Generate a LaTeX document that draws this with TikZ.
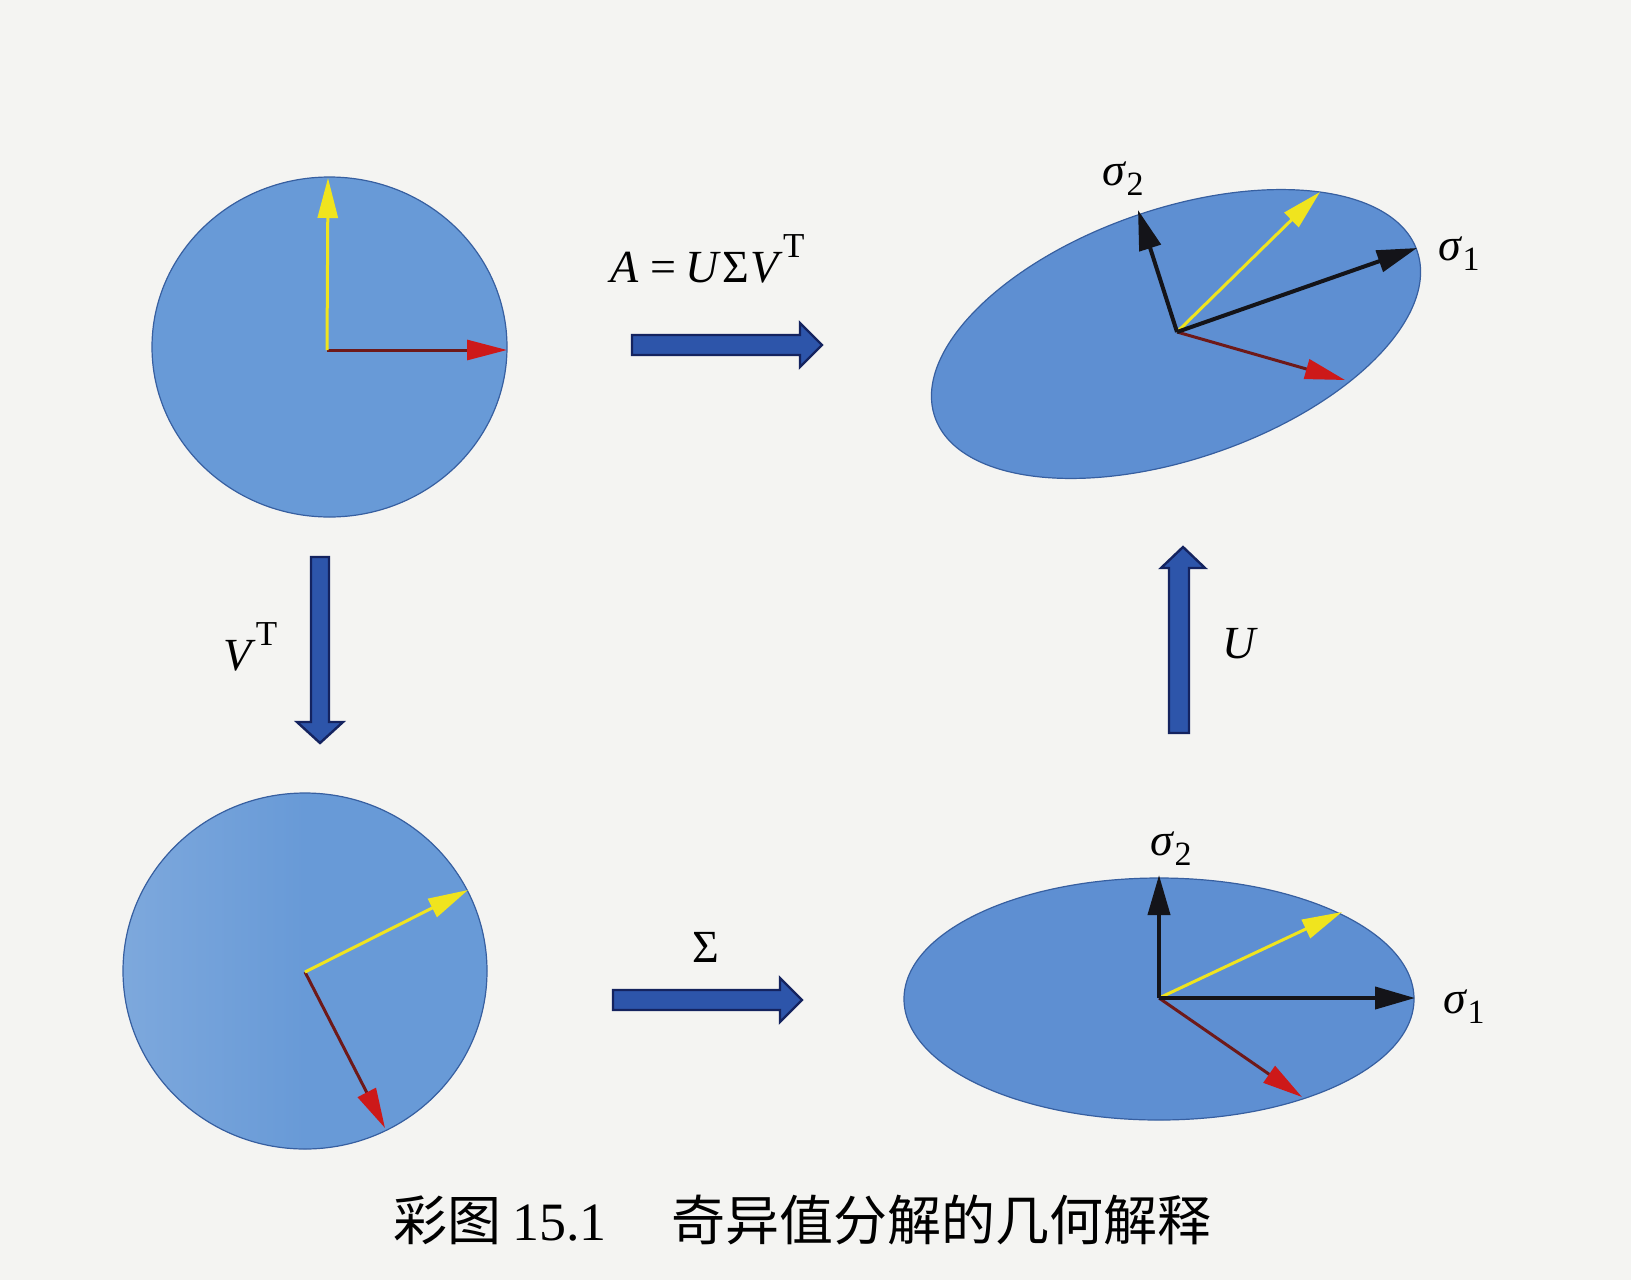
\documentclass[tikz,border=0pt]{standalone}
\usepackage{fontspec}
\setmainfont{Liberation Serif}
\newfontfamily\cjk{Noto Sans CJK SC}
\usetikzlibrary{arrows.meta}
\definecolor{bgc}{RGB}{244,244,242}
\definecolor{discfill}{RGB}{104,154,215}
\definecolor{ellfill}{RGB}{94,143,210}
\definecolor{discline}{RGB}{55,95,160}
\definecolor{barfill}{RGB}{45,85,170}
\definecolor{barline}{RGB}{20,35,95}
\definecolor{vyellow}{RGB}{240,228,30}
\definecolor{vred}{RGB}{205,25,25}
\definecolor{vredline}{RGB}{110,25,25}
\definecolor{vblack}{RGB}{20,20,25}
\newcommand{\supT}{\raisebox{12.5pt}{\fontsize{17.5}{18}\selectfont T}}
\newcommand{\subN}[1]{\raisebox{-5pt}{\fontsize{17}{17}\selectfont #1}}
\begin{document}
\begin{tikzpicture}[x=0.5pt,y=-0.5pt,
  disc/.style={fill=discfill,draw=discline,line width=0.6pt},
  oval/.style={fill=ellfill,draw=discline,line width=0.6pt},
  barrow/.style={fill=barfill,draw=barline,line width=1.2pt,line join=miter},
  yvec/.style={draw=vyellow,line width=1.5pt,-{Triangle[length=20pt,width=10pt,color=vyellow,fill=vyellow]}},
  rvec/.style={draw=vredline,line width=1.5pt,-{Triangle[length=20pt,width=10pt,color=vred,fill=vred]}},
  kvec/.style={draw=vblack,line width=2pt,-{Triangle[length=20pt,width=11pt,color=vblack,fill=vblack]}},
  lab/.style={inner sep=0pt,font=\fontsize{23}{27}\selectfont},
  captext/.style={inner sep=0pt,font=\fontsize{27}{30}\selectfont}]
\useasboundingbox (0,0) rectangle (1631,1280);
\fill[bgc] (0,0) rectangle (1631,1280);

% shapes
\draw[disc] (329.5,347) ellipse [x radius=88.75pt, y radius=85pt];
\draw[disc,left color=discfill!86!white,right color=discfill,middle color=discfill] (305,971) ellipse [x radius=91pt, y radius=89pt];
\draw[oval, rotate around={19:(1176,334)}] (1176,334) ellipse [x radius=127.5pt, y radius=62.5pt];
\draw[oval] (1159,999) ellipse [x radius=127.5pt, y radius=60.5pt];

% vector origins and tips
\coordinate (o1) at (327,350);
\coordinate (y1) at (328,178);
\coordinate (r1) at (507,350);
\coordinate (o3) at (305,972);
\coordinate (y3) at (468,890);
\coordinate (r3) at (385,1128);
\coordinate (o2) at (1177,332);
\coordinate (s12) at (1417,248);
\coordinate (s22) at (1138,210);
\coordinate (y2) at (1320,192);
\coordinate (r2) at (1345,380);
\coordinate (o4) at (1159,998);
\coordinate (s14) at (1415,998);
\coordinate (s24) at (1159,875);
\coordinate (y4) at (1342,912);
\coordinate (r4) at (1302,1097);

\draw[rvec] (o1) -- (r1);
\draw[yvec] (o1) -- (y1);
\draw[rvec] (o3) -- (r3);
\draw[yvec] (o3) -- (y3);
\draw[rvec] (o2) -- (r2);
\draw[yvec] (o2) -- (y2);
\draw[kvec] (o2) -- (s12);
\draw[kvec] (o2) -- (s22);
\draw[rvec] (o4) -- (r4);
\draw[yvec] (o4) -- (y4);
\draw[kvec] (o4) -- (s14);
\draw[kvec] (o4) -- (s24);

% block arrows
\draw[barrow] (632,335) -- (800,335) -- (800,323) -- (822,345) -- (800,367) -- (800,355) -- (632,355) -- cycle;
\draw[barrow] (613,990) -- (780,990) -- (780,978) -- (802,1000) -- (780,1022) -- (780,1010) -- (613,1010) -- cycle;
\draw[barrow] (311,557) -- (311,722) -- (297,722) -- (320,743) -- (343,722) -- (329,722) -- (329,557) -- cycle;
\draw[barrow] (1169,733) -- (1169,568) -- (1161,568) -- (1183,547) -- (1205,568) -- (1189,568) -- (1189,733) -- cycle;

% labels
\node[lab,anchor=base west] (lA) at (610,282) {\textit{A}\hspace{0.25em}=\hspace{0.2em}\textit{U}\hspace{0.03em}Σ\hspace{0.03em}\textit{V}\supT};
\node[lab,anchor=base west] (lV) at (223,670) {\textit{V}\supT};
\node[lab,anchor=base west] (lU) at (1222,658) {\textit{U}};
\node[lab,anchor=base] (lS) at (706,962) {Σ};
\node[lab,anchor=base west] (ls2a) at (1102,185) {\textit{σ}\subN{2}};
\node[lab,anchor=base west] (ls1a) at (1438,260) {\textit{σ}\subN{1}};
\node[lab,anchor=base west] (ls2b) at (1150,855) {\textit{σ}\subN{2}};
\node[lab,anchor=base west] (ls1b) at (1443,1013) {\textit{σ}\subN{1}};

% caption
\node[captext,anchor=base west] (c1) at (393,1240) {\cjk 彩图};
\node[captext,anchor=base west] (c2) at (512,1240) {15.1};
\node[captext,anchor=base west] (c3) at (671,1240) {\cjk 奇异值分解的几何解释};
\end{tikzpicture}
\end{document}
